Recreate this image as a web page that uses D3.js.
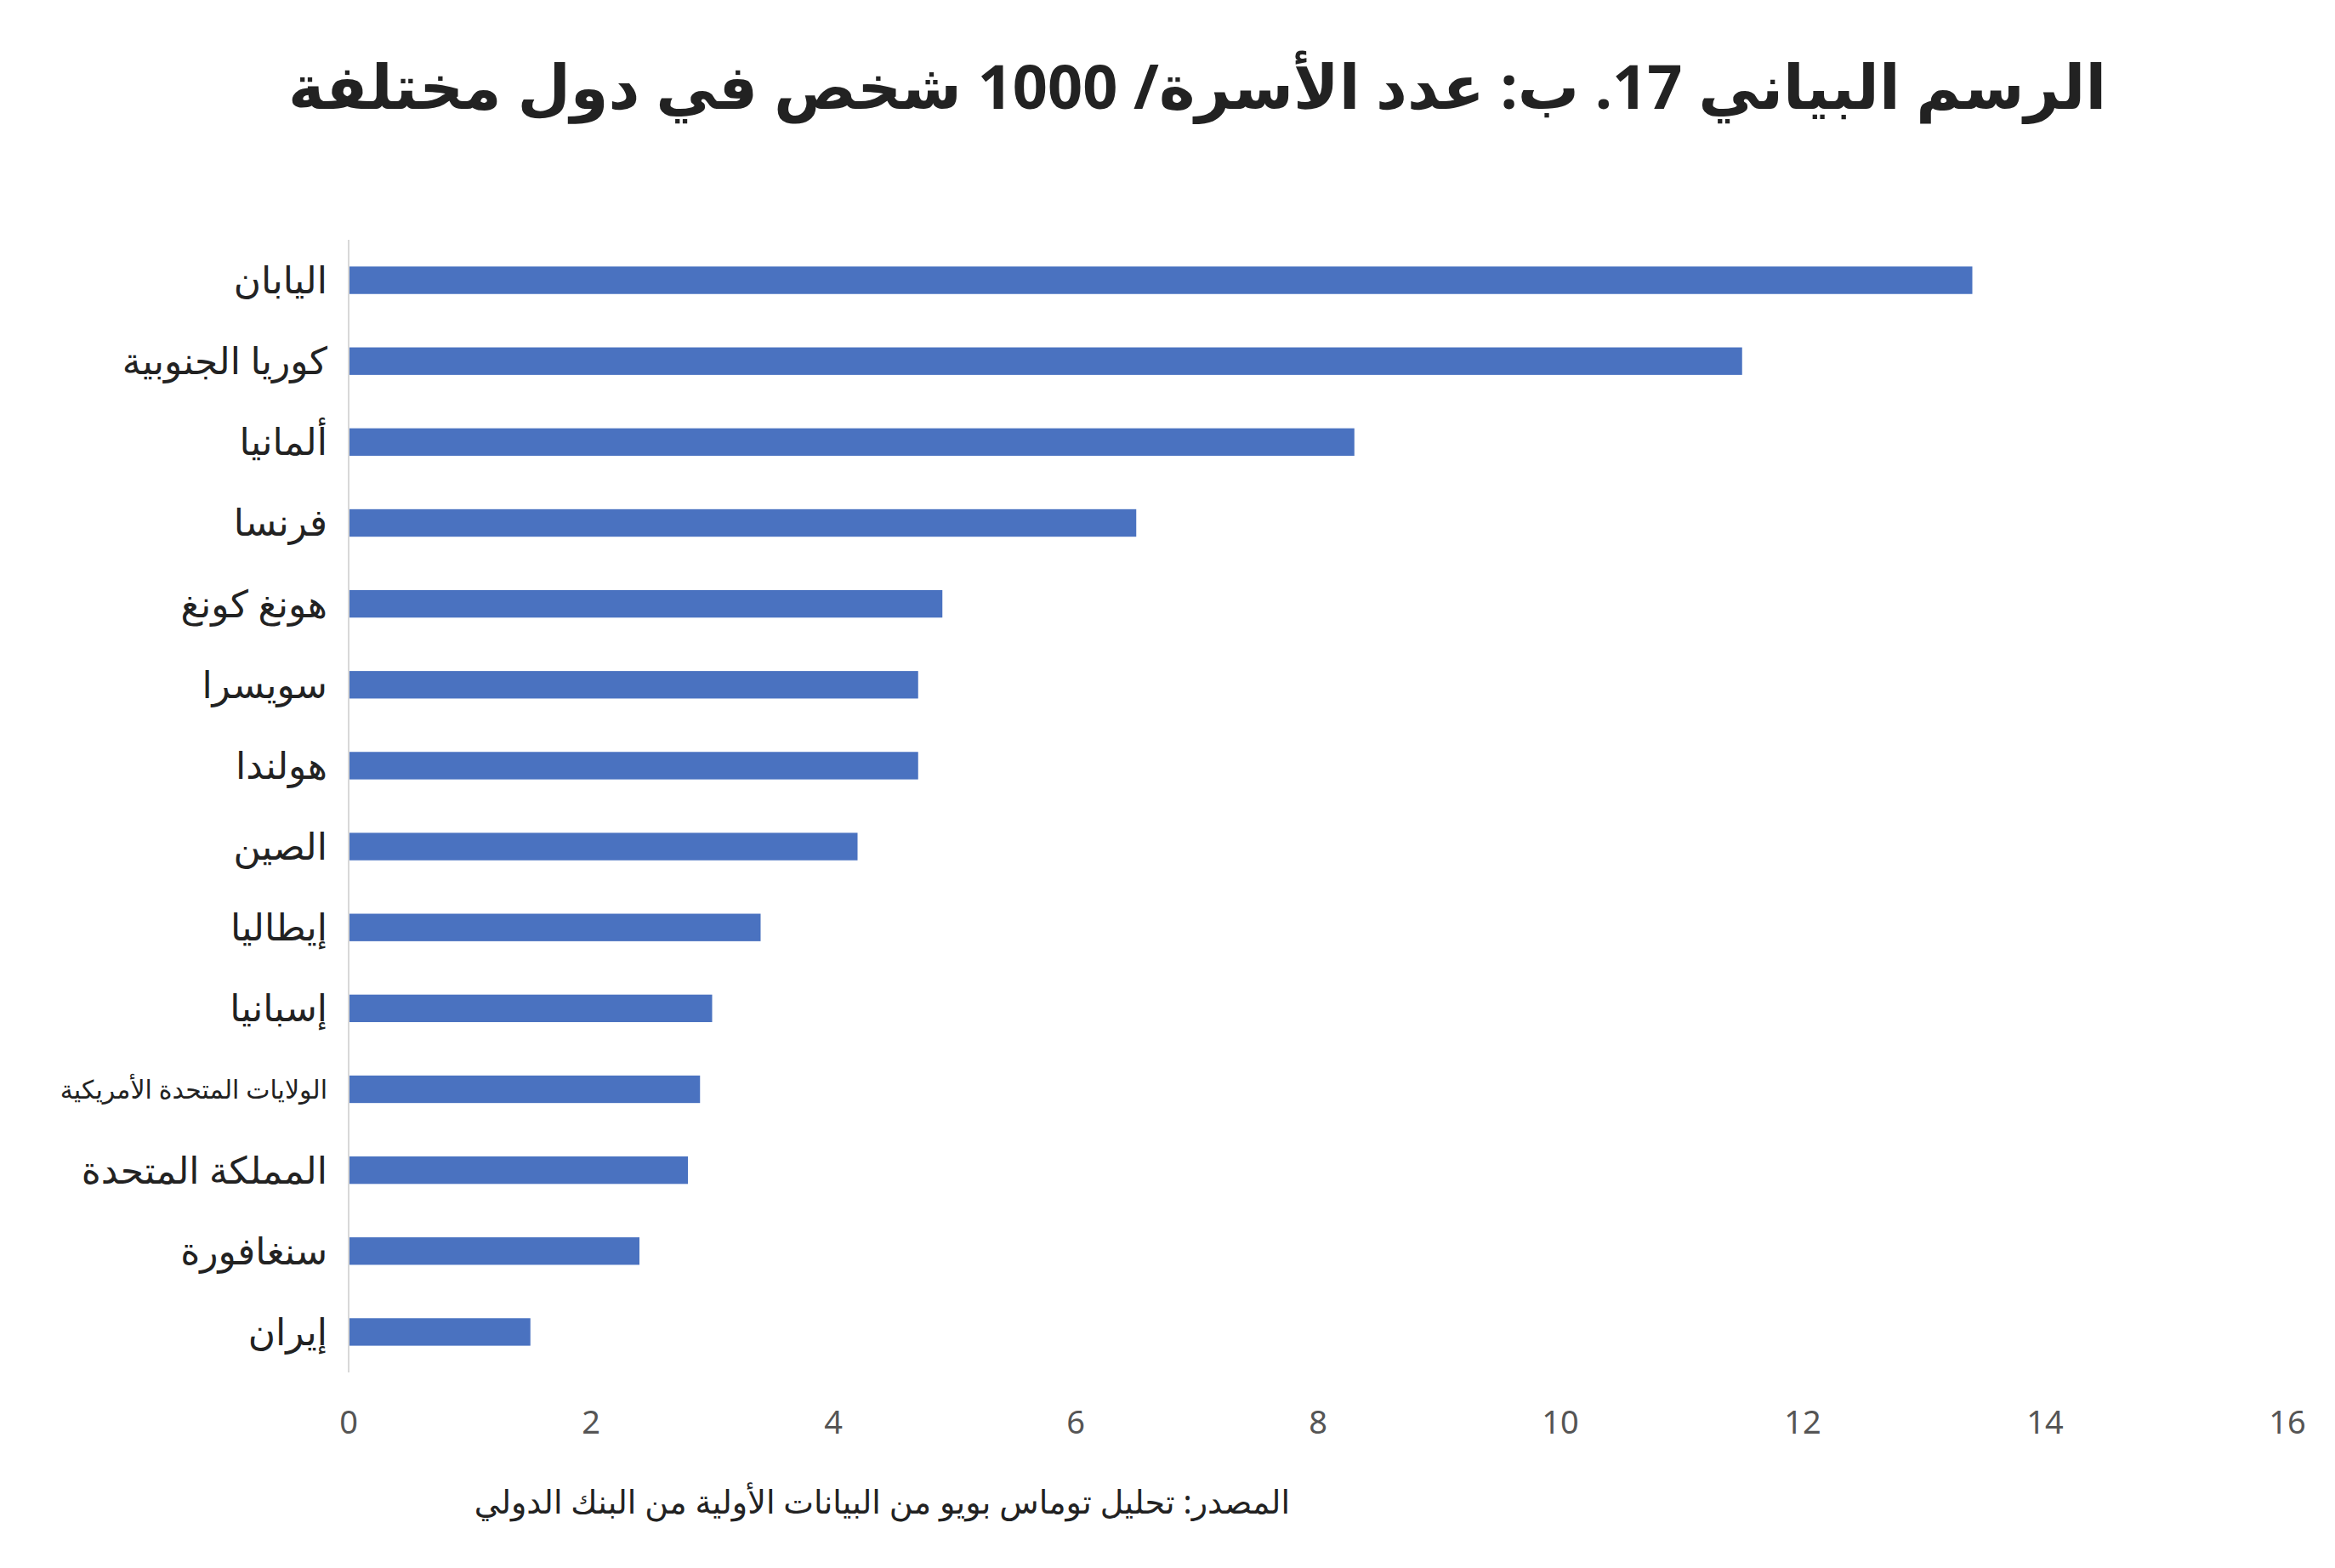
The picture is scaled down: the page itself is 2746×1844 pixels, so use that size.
<!DOCTYPE html>
<html><head><meta charset="utf-8">
<script src="https://cdn.jsdelivr.net/npm/d3@7"></script>
<style>body{margin:0;background:#fff}svg{display:block}</style>
</head><body>
<script>
const countries = ['اليابان', 'كوريا الجنوبية', 'ألمانيا', 'فرنسا', 'هونغ كونغ', 'سويسرا', 'هولندا', 'الصين', 'إيطاليا', 'إسبانيا', 'الولايات المتحدة الأمريكية', 'المملكة المتحدة', 'سنغافورة', 'إيران'];
const values = [13.4, 11.5, 8.3, 6.5, 4.9, 4.7, 4.7, 4.2, 3.4, 3.0, 2.9, 2.8, 2.4, 1.5];
const xTicks = [0, 2, 4, 6, 8, 10, 12, 14, 16];
const title = 'الرسم البياني 17. ب: عدد الأسرة/ 1000 شخص في دول مختلفة';
const source = 'المصدر: تحليل توماس بويو من البيانات الأولية من البنك الدولي';

const W = 2746, H = 1844;
const font = '"Noto Sans", "DejaVu Sans", sans-serif';
const svg = d3.select('body').append('svg').attr('width', W).attr('height', H);

const x = d3.scaleLinear().domain([0, 16]).range([410, 2690]);
const y = d3.scaleBand().domain(countries).range([282, 1614]).paddingInner(0.66).paddingOuter(0.33);

// title
svg.append('text').attr('x', 1408).attr('y', 128).attr('text-anchor', 'middle')
  .attr('direction', 'rtl').attr('font-family', font).attr('font-weight', 'bold')
  .attr('font-size', 72).attr('fill', '#222').text(title);

// bars
svg.selectAll('rect.bar').data(countries).join('rect').attr('class', 'bar')
  .attr('x', x(0)).attr('y', (d) => y(d))
  .attr('width', (d, i) => x(values[i]) - x(0)).attr('height', y.bandwidth())
  .attr('fill', '#4a72c0');

// y labels
svg.selectAll('text.lab').data(countries).join('text').attr('class', 'lab')
  .attr('x', 385).attr('y', (d) => y(d) + y.bandwidth() / 2)
  .attr('dy', '0.35em').attr('text-anchor', 'start').attr('direction', 'rtl')
  .attr('font-family', font).attr('font-size', (d) => (d.length > 20 ? 30 : 44))
  .attr('fill', '#222').text((d) => d);

// axis line
svg.append('line').attr('x1', x(0)).attr('x2', x(0)).attr('y1', 282).attr('y2', 1614)
  .attr('stroke', '#d8d8d8').attr('stroke-width', 2);

// x tick labels
svg.selectAll('text.tick').data(xTicks).join('text').attr('class', 'tick')
  .attr('x', (d) => x(d)).attr('y', 1686).attr('text-anchor', 'middle')
  .attr('font-family', font).attr('font-size', 38).attr('fill', '#555').text((d) => d);

// source
svg.append('text').attr('x', 1517).attr('y', 1780).attr('text-anchor', 'start')
  .attr('direction', 'rtl').attr('font-family', font).attr('font-size', 38)
  .attr('fill', '#222').text(source);
</script>
</body></html>
